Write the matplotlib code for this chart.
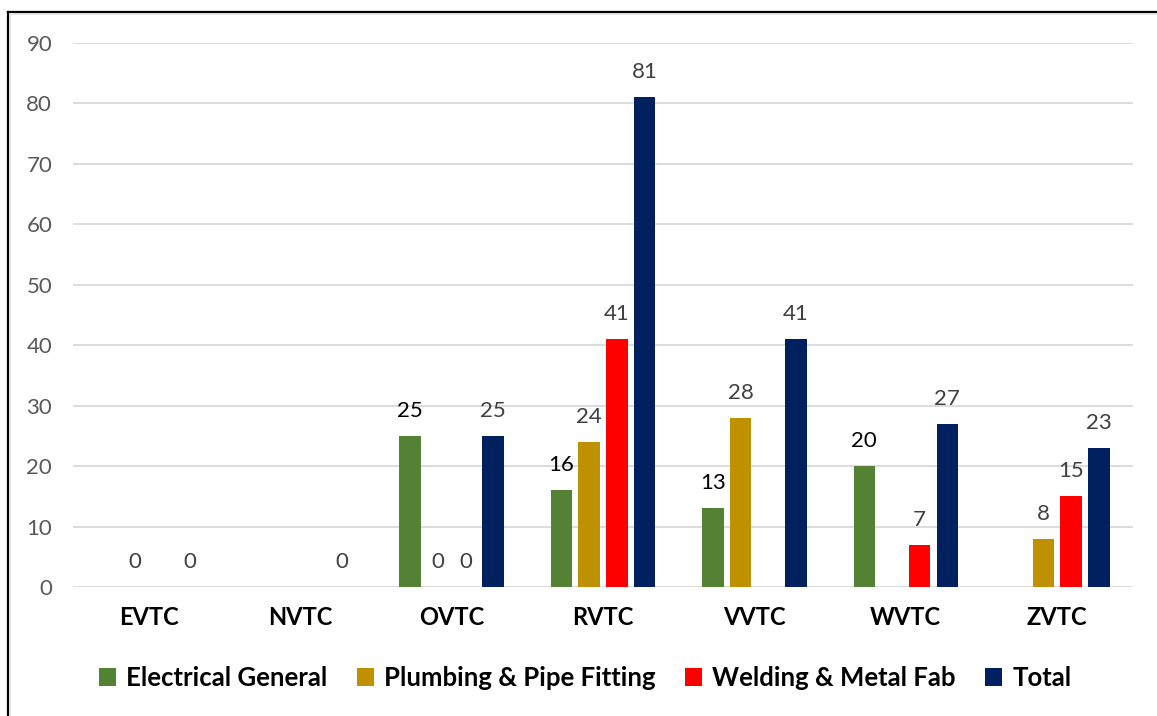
import matplotlib
matplotlib.use("Agg")
import matplotlib.pyplot as plt
from matplotlib.lines import Line2D
from matplotlib.patches import Patch

plt.rcParams['font.family'] = ['Lato', 'DejaVu Sans']

categories = ["EVTC", "NVTC", "OVTC", "RVTC", "VVTC", "WVTC", "ZVTC"]
series_names = ["Electrical General", "Plumbing & Pipe Fitting",
                "Welding & Metal Fab", "Total"]
electrical = [None, None, 25, 16, 13, 20, None]
plumbing = [0, None, 0, 24, 28, None, 8]
welding = [None, None, 0, 41, None, 7, 15]
total = [0, 0, 25, 81, 41, 27, 23]
series_values = [electrical, plumbing, welding, total]
colors = ["#548235", "#BF9000", "#FF0000", "#002060"]
label_colors = ["#000000", "#404040", "#404040", "#404040"]
y_ticks = list(range(0, 100, 10))

W, H, DPI = 1157, 716, 100
fig = plt.figure(figsize=(W / DPI, H / DPI), dpi=DPI)
fig.patch.set_facecolor("white")
ax = fig.add_axes([73 / W, 1 - 587 / H, (1133 - 73) / W, (587 - 43) / H])

bar_w = 0.142
step = 0.183
offsets = [(i - 1.5) * step for i in range(4)]

for vals, off, col, lcol in zip(series_values, offsets, colors, label_colors):
    for ci, v in enumerate(vals):
        if v is None:
            continue
        x = ci + off
        if v > 0:
            ax.bar(x, v, width=bar_w, color=col, zorder=3)
        ax.annotate(str(v), (x, v), xytext=(0, 25), textcoords="offset pixels",
                    ha="center", va="center", fontsize=16, color=lcol, zorder=4)

ax.set_xlim(-0.5, len(categories) - 0.5)
ax.set_ylim(0, 90)
ax.set_yticks(y_ticks)
ax.set_yticklabels([str(t) for t in y_ticks], fontsize=16, color="#595959")
ax.set_xticks(range(len(categories)))
ax.set_xticklabels(categories, fontsize=17, fontweight="bold", color="#000000")
ax.tick_params(axis="y", length=0, pad=15)
ax.tick_params(axis="x", length=0, pad=14)
ax.yaxis.grid(True, color="#D9D9D9", linewidth=1.3, zorder=0)
ax.set_axisbelow(True)
for s in ax.spines.values():
    s.set_visible(False)

handles = [Patch(facecolor=c, edgecolor="none") for c in colors]
fig.legend(handles, series_names, loc="center",
           bbox_to_anchor=(0.5 + 7 / W, 1 - 678 / H),
           ncol=4, frameon=False, prop={"size": 18.5, "weight": "bold"},
           handlelength=0.65, handleheight=0.65, handletextpad=0.4,
           columnspacing=1.15)

# frame border along the top and left edge
fig.add_artist(Line2D([8 / W, 1], [1 - 12 / H, 1 - 12 / H], color="#000000",
                      linewidth=1.6, transform=fig.transFigure))
fig.add_artist(Line2D([8 / W, 8 / W], [0, 1 - 12 / H], color="#000000",
                      linewidth=1.6, transform=fig.transFigure))
fig.add_artist(Line2D([10 / W, 1], [1 - 14 / H, 1 - 14 / H], color="#E0E0E0",
                      linewidth=1.2, transform=fig.transFigure))
fig.add_artist(Line2D([10 / W, 10 / W], [0, 1 - 14 / H], color="#E0E0E0",
                      linewidth=1.2, transform=fig.transFigure))

fig.savefig("out.png", dpi=DPI)
